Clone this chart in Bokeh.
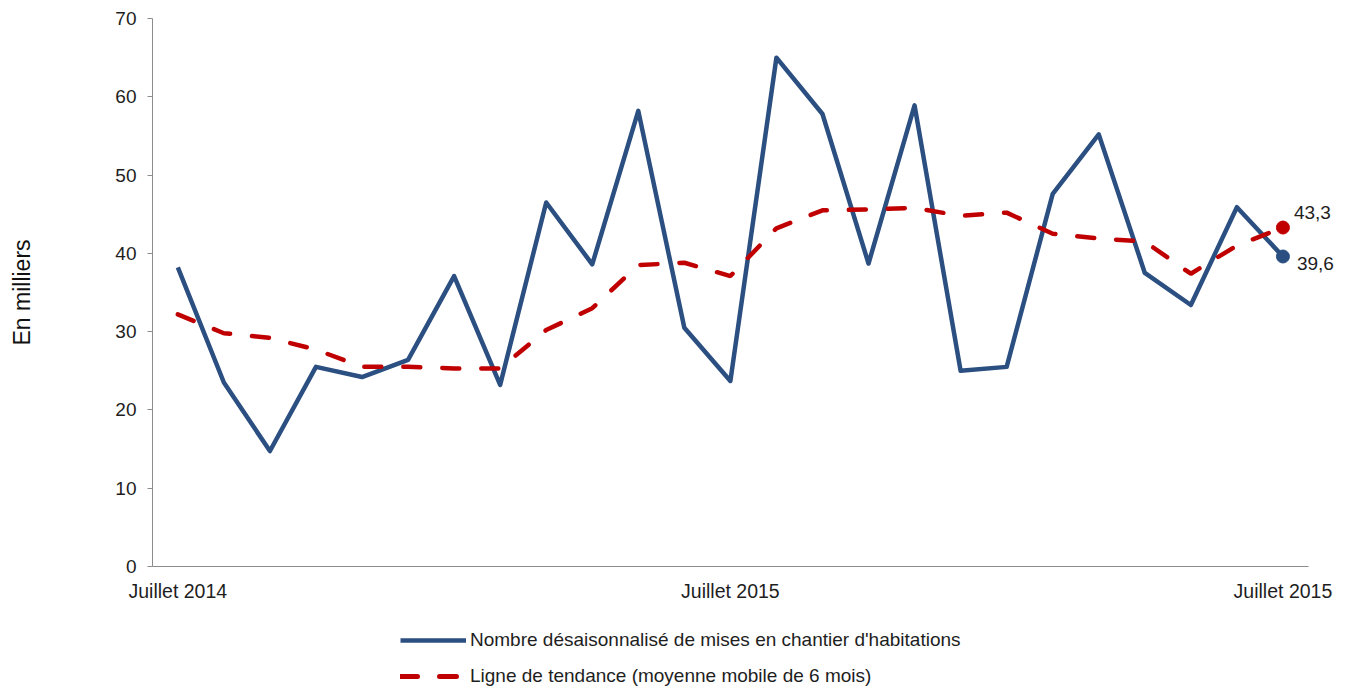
from bokeh.plotting import figure
from bokeh.models import (ColumnDataSource, FixedTicker, Legend, LegendItem, Range1d)
from bokeh.layouts import column
from bokeh.embed import file_html
from bokeh.resources import INLINE
from bokeh.core.properties import value

# ---- data ----
months = list(range(25))
starts = [38.2, 23.5, 14.75, 25.5, 24.2, 26.4, 37.1, 23.2, 46.5, 38.6, 58.2, 30.5, 23.7,
          65.0, 57.8, 38.7, 58.9, 25.0, 25.5, 47.6, 55.2, 37.5, 33.4, 45.9, 39.6]
trend = [32.2, 29.8, 29.2, 27.7, 25.5, 25.5, 25.3, 25.3, 30.2, 33.0, 38.5, 38.8, 37.1,
         43.2, 45.5, 45.6, 45.8, 44.8, 45.2, 42.5, 41.9, 41.5, 37.4, 41.0, 43.3]
tick_positions = [0, 12, 24]
tick_labels = ["Juillet 2014", "Juillet 2015", "Juillet 2015"]
y_ticks = [0, 10, 20, 30, 40, 50, 60, 70]
y_title = "En milliers"
last_starts_label = "39,6"
last_trend_label = "43,3"
series_names = ["Nombre désaisonnalisé de mises en chantier d'habitations",
                "Ligne de tendance (moyenne mobile de 6 mois)"]

BLUE = "#2B4F81"
RED = "#C00000"
TXT = "#1E1E1E"
FONT = "Liberation Sans"
W = 1343
DASH = "17 22"

src = ColumnDataSource(dict(x=months, starts=starts, trend=trend))

p = figure(width=W, height=604, output_backend="svg", toolbar_location=None,
           x_range=Range1d(-0.55, 25.25), y_range=Range1d(0, 70),
           min_border_left=152, min_border_top=18, min_border_right=3,
           min_border_bottom=38)
p.outline_line_color = None
p.xgrid.grid_line_color = None
p.ygrid.grid_line_color = None
p.background_fill_color = "white"
p.border_fill_color = "white"

r_blue = p.line("x", "starts", source=src, line_color=BLUE, line_width=4.5,
                line_join="round")
r_red = p.line("x", "trend", source=src, line_color=RED, line_width=4.5,
               line_dash=DASH, line_cap="round")

# end points
p.scatter([months[-1]], [trend[-1]], size=13, color=RED)
p.scatter([months[-1]], [starts[-1]], size=13, color=BLUE)
p.text([months[-1]], [trend[-1]], text=[last_trend_label], x_offset=11, y_offset=-15,
       text_font=value(FONT), text_font_size="19px", text_color=TXT,
       text_baseline="middle", text_align="left")
p.text([months[-1]], [starts[-1]], text=[last_starts_label], x_offset=14, y_offset=7,
       text_font=value(FONT), text_font_size="19px", text_color=TXT,
       text_baseline="middle", text_align="left")

# axes
xa = p.xaxis[0]
xa.ticker = FixedTicker(ticks=tick_positions)
xa.major_label_overrides = {t: l for t, l in zip(tick_positions, tick_labels)}
xa.bounds = (-0.55, 24.55)
xa.major_tick_line_color = None
xa.minor_tick_line_color = None
xa.axis_line_color = "#8C8C8C"
xa.major_label_standoff = 7
xa.major_label_text_font = FONT
xa.major_label_text_font_size = "19.5px"
xa.major_label_text_color = TXT

ya = p.yaxis[0]
ya.ticker = FixedTicker(ticks=y_ticks)
ya.minor_tick_line_color = None
ya.major_tick_out = 5
ya.major_tick_in = 0
ya.major_tick_line_color = "#8C8C8C"
ya.axis_line_color = "#8C8C8C"
ya.major_label_standoff = 11
ya.major_label_text_font = FONT
ya.major_label_text_font_size = "19px"
ya.major_label_text_color = TXT
ya.axis_label = y_title
ya.axis_label_text_font = FONT
ya.axis_label_text_font_size = "23px"
ya.axis_label_text_font_style = "normal"
ya.axis_label_text_color = "#111111"
ya.axis_label_standoff = 77

# ---- legend in its own strip below ----
lg = figure(width=W, height=84, output_backend="svg", toolbar_location=None,
            x_range=Range1d(0, 1), y_range=Range1d(0, 1),
            min_border_left=0, min_border_right=0, min_border_top=0, min_border_bottom=0)
lg.axis.visible = False
lg.xgrid.grid_line_color = None
lg.ygrid.grid_line_color = None
lg.outline_line_color = None
lb = lg.line([-5, -4], [-5, -4], line_color=BLUE, line_width=4.5)
lr = lg.line([-5, -4], [-5, -4], line_color=RED, line_width=5, line_dash=DASH,
             line_cap="round")

legend = Legend(items=[LegendItem(label=series_names[0], renderers=[lb]),
                       LegendItem(label=series_names[1], renderers=[lr])],
                orientation="vertical", location=(248, 1))
legend.border_line_color = None
legend.background_fill_alpha = 0
legend.label_text_font = FONT
legend.label_text_font_size = "19px"
legend.label_text_color = TXT
legend.glyph_width = 66
legend.glyph_height = 20
legend.label_height = 20
legend.label_standoff = 4
legend.spacing = 14
legend.padding = 0
legend.margin = 0
lg.add_layout(legend, "center")

layout = column(p, lg, spacing=0)
open("out.html", "w").write(file_html(layout, INLINE))
